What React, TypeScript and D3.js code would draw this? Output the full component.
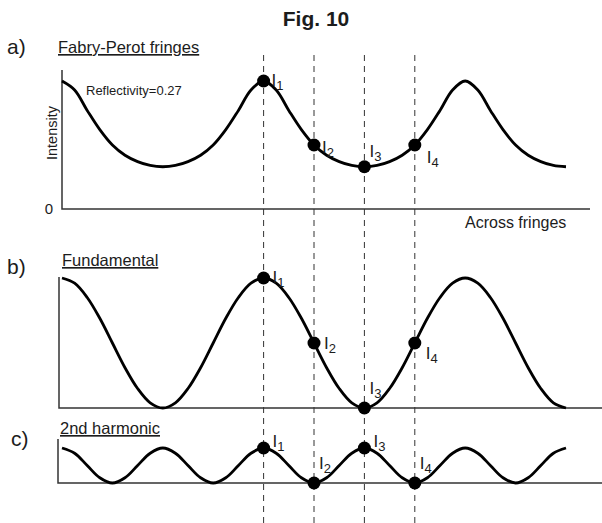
import React from "react";
import * as d3 from "d3";

// phase across the fringes, in fringe periods, sampled every 1/16 period
const phases: number[] = d3.range(41).map((i) => i / 16);

// normalised intensity (1 = fringe peak)
const fringeValues = [
  1.0, 0.93, 0.77, 0.62, 0.5, 0.42, 0.37, 0.34, 0.33, 0.34, 0.37, 0.42, 0.5, 0.62, 0.77, 0.93,
  1.0, 0.93, 0.77, 0.62, 0.5, 0.42, 0.37, 0.34, 0.33, 0.34, 0.37, 0.42, 0.5, 0.62, 0.77, 0.93,
  1.0, 0.93, 0.77, 0.62, 0.5, 0.42, 0.37, 0.34, 0.33,
];
const fundamentalValues = [
  1.0, 0.96, 0.85, 0.69, 0.5, 0.31, 0.15, 0.04, 0.0, 0.04, 0.15, 0.31, 0.5, 0.69, 0.85, 0.96,
  1.0, 0.96, 0.85, 0.69, 0.5, 0.31, 0.15, 0.04, 0.0, 0.04, 0.15, 0.31, 0.5, 0.69, 0.85, 0.96,
  1.0, 0.96, 0.85, 0.69, 0.5, 0.31, 0.15, 0.04, 0.0,
];
const harmonicValues = [
  1.0, 0.85, 0.5, 0.15, 0.0, 0.15, 0.5, 0.85,
  1.0, 0.85, 0.5, 0.15, 0.0, 0.15, 0.5, 0.85,
  1.0, 0.85, 0.5, 0.15, 0.0, 0.15, 0.5, 0.85,
  1.0, 0.85, 0.5, 0.15, 0.0, 0.15, 0.5, 0.85,
  1.0, 0.85, 0.5, 0.15, 0.0, 0.15, 0.5, 0.85,
  1.0,
];

// the four sampling points I1..I4
const samplePhases = [1, 1.25, 1.5, 1.75];
const sampleLabels = ["1", "2", "3", "4"];

const W = 602;
const H = 523;
const FONT = "'Liberation Sans', Arial, Helvetica, sans-serif";
const INK = "#1c1c1c";

const x = d3.scaleLinear().domain([0, 2.5]).range([62, 566]);

interface Panel {
  values: number[];
  tag: string;
  title: string;
  tagY: number;
  tagX: number;
  titleX: number;
  titleY: number;
  axisX: number;
  axisTop: number;
  base: number;
  peak: number;
  axisEnd: number;
  // label offsets from each dot [dx, dy]
  offsets: [number, number][];
}

const panels: Panel[] = [
  {
    values: fringeValues,
    tag: "a)",
    title: "Fabry-Perot fringes",
    tagX: 7,
    tagY: 54,
    titleX: 58,
    titleY: 53,
    axisX: 62,
    axisTop: 70,
    base: 209,
    peak: 81,
    axisEnd: 590,
    offsets: [
      [8, 5],
      [8, 8],
      [5, -10],
      [12, 18],
    ],
  },
  {
    values: fundamentalValues,
    tag: "b)",
    title: "Fundamental",
    tagX: 7,
    tagY: 274,
    titleX: 62,
    titleY: 266,
    axisX: 59,
    axisTop: 277,
    base: 408,
    peak: 278,
    axisEnd: 602,
    offsets: [
      [9, 5],
      [10, 6],
      [5, -14],
      [11, 16],
    ],
  },
  {
    values: harmonicValues,
    tag: "c)",
    title: "2nd harmonic",
    tagX: 11,
    tagY: 446,
    titleX: 60,
    titleY: 434,
    axisX: 58,
    axisTop: 439,
    base: 483,
    peak: 448,
    axisEnd: 602,
    offsets: [
      [9, -1],
      [5, -14],
      [9, -1],
      [5, -14],
    ],
  },
];

const PanelView: React.FC<{ p: Panel }> = ({ p }) => {
  const y = d3.scaleLinear().domain([0, 1]).range([p.base, p.peak]);
  const line = d3
    .line<number>()
    .x((_, i) => x(phases[i]))
    .y((d) => y(d))
    .curve(d3.curveCatmullRom);

  return (
    <g>
      <text x={p.tagX} y={p.tagY} fontSize={21} fill={INK}>
        {p.tag}
      </text>
      <text x={p.titleX} y={p.titleY} fontSize={16.5} fill={INK} textDecoration="underline">
        {p.title}
      </text>
      <path
        d={`M${p.axisX},${p.axisTop}V${p.base}H${p.axisEnd}`}
        fill="none"
        stroke="#333"
        strokeWidth={1.5}
      />
      <path d={line(p.values) ?? ""} fill="none" stroke="#000" strokeWidth={2.8} />
      {samplePhases.map((ph, k) => {
        const idx = phases.findIndex((v) => Math.abs(v - ph) < 1e-9);
        const cx = x(ph);
        const cy = y(p.values[idx]);
        const [dx, dy] = p.offsets[k];
        return (
          <g key={k}>
            <circle cx={cx} cy={cy} r={6.5} fill="#000" />
            <text x={cx + dx} y={cy + dy} fontSize={17} fill={INK}>
              I
              <tspan fontSize={13} dy={4}>
                {sampleLabels[k]}
              </tspan>
            </text>
          </g>
        );
      })}
    </g>
  );
};

export default function App() {
  return (
    <svg
      width={W}
      height={H}
      style={{ position: "absolute", left: 0, top: 0, background: "#fff" }}
      fontFamily={FONT}
    >
      <rect width={W} height={H} fill="#fff" />
      <text x={316} y={26} fontSize={21} fontWeight="bold" textAnchor="middle" fill={INK}>
        Fig. 10
      </text>
      {samplePhases.map((ph, k) => (
        <line
          key={k}
          x1={x(ph)}
          x2={x(ph)}
          y1={55}
          y2={H}
          stroke="#333"
          strokeWidth={1}
          strokeDasharray="6,5"
        />
      ))}
      {panels.map((p, i) => (
        <PanelView key={i} p={p} />
      ))}
      <text x={86} y={95} fontSize={13} fill={INK}>
        Reflectivity=0.27
      </text>
      <text
        transform="translate(57,133) rotate(-90)"
        fontSize={14.5}
        textAnchor="middle"
        fill={INK}
      >
        Intensity
      </text>
      <text x={53} y={214} fontSize={15} textAnchor="end" fill={INK}>
        0
      </text>
      <text x={465} y={228} fontSize={16} fill={INK}>
        Across fringes
      </text>
    </svg>
  );
}
